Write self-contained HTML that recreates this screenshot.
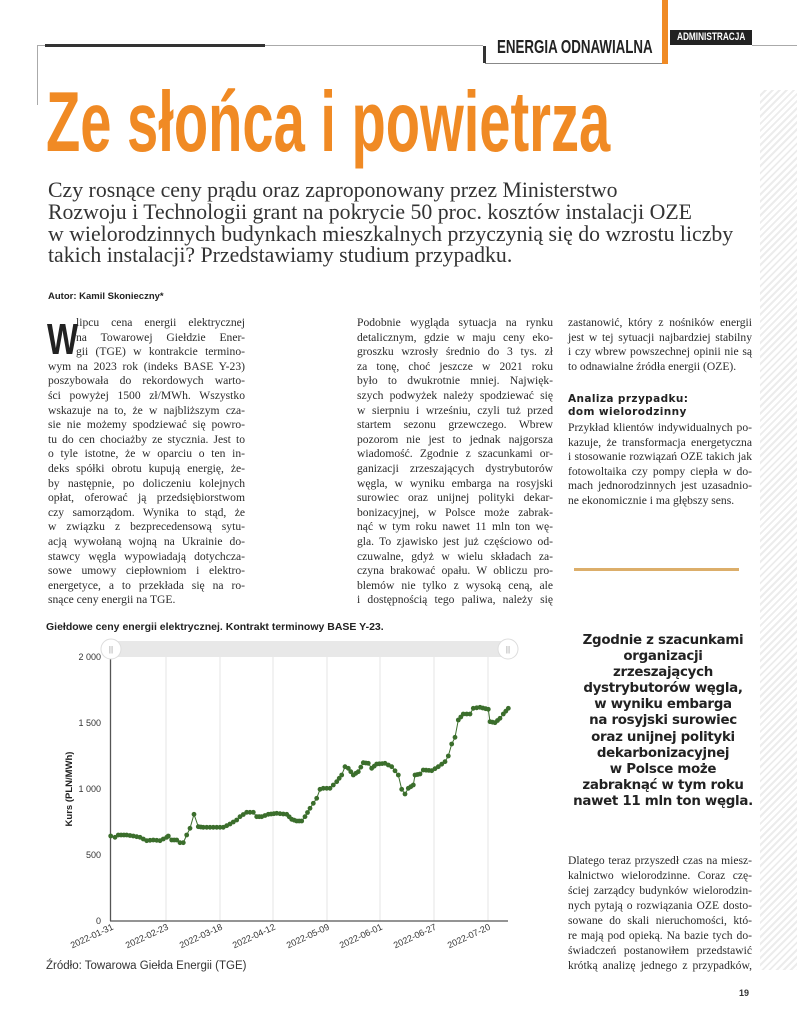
<!DOCTYPE html>
<html><head><meta charset="utf-8">
<style>
*{margin:0;padding:0}
body{width:797px;height:1024px;position:relative;background:#fff;overflow:hidden;font-family:"Liberation Serif",serif;color:#222}
.a{position:absolute}
.col{position:absolute;font-family:"Liberation Serif",serif;font-size:11.6px;line-height:14.6px;color:#2a2a2a}
.col div{white-space:nowrap;text-align:justify;text-align-last:justify}
.col div.l{text-align-last:left}
.sub{position:absolute;left:48px;top:180px;font-family:"Liberation Serif",serif;font-size:21.8px;line-height:21.8px;color:#333;white-space:nowrap}
.pq{position:absolute;left:568px;top:633px;width:190px;text-align:center;font-family:"DejaVu Sans","Liberation Sans",sans-serif;font-weight:bold;font-size:13.4px;line-height:16.1px;color:#222;letter-spacing:-0.3px}
.stripe{position:absolute;left:760px;top:90px;width:37px;height:880px;background:repeating-linear-gradient(135deg,#fff 0 3px,#ececec 3px 5px)}
</style></head><body>
<div class="stripe"></div>
<div class="a" style="left:37px;top:45px;width:446px;height:1px;background:#aaa"></div>
<div class="a" style="left:37px;top:45px;width:1px;height:60px;background:#aaa"></div>
<div class="a" style="left:45px;top:44px;width:220px;height:3px;background:#333"></div>
<div class="a" style="left:483px;top:46px;width:3px;height:17px;background:#333"></div>
<div class="a" style="left:485px;top:63px;width:180px;height:1px;background:#888"></div>
<div class="a" style="left:497px;top:37px;font-family:'Liberation Sans',sans-serif;font-weight:bold;font-size:18px;color:#222;transform:scaleX(0.74);transform-origin:left;white-space:nowrap">ENERGIA ODNAWIALNA</div>
<div class="a" style="left:662px;top:0;width:6px;height:64px;background:#f08a24"></div>
<div class="a" style="left:670px;top:30px;width:82px;height:15px;background:#222"></div>
<div class="a" style="left:677px;top:31px;font-family:'Liberation Sans',sans-serif;font-weight:bold;font-size:11px;color:#fff;transform:scaleX(0.75);transform-origin:left;white-space:nowrap">ADMINISTRACJA</div>
<div class="a" style="left:752px;top:45px;width:45px;height:1px;background:#aaa"></div>
<div class="a" style="left:46px;top:80px;font-family:'Liberation Sans',sans-serif;font-weight:bold;font-size:85px;line-height:85px;color:#f08a24;white-space:nowrap;transform:scaleX(0.66);transform-origin:left">Ze słońca i powietrza</div>
<div class="sub">Czy rosnące ceny prądu oraz zaproponowany przez Ministerstwo<br>Rozwoju i Technologii grant na pokrycie 50 proc. kosztów instalacji OZE<br>w wielorodzinnych budynkach mieszkalnych przyczynią się do wzrostu liczby<br>takich instalacji? Przedstawiamy studium przypadku.</div>
<div class="a" style="left:48px;top:291px;font-family:'Liberation Sans',sans-serif;font-weight:bold;font-size:9.5px;color:#222">Autor: Kamil Skonieczny*</div>
<div class="a" style="left:47px;top:318px;font-family:'Liberation Sans',sans-serif;font-weight:bold;font-size:44px;line-height:44px;color:#222;transform:scaleX(0.75);transform-origin:left">W</div>
<div class="col" style="left:48px;top:316px;width:197px">
<div style="margin-left:28px">lipcu cena energii elektrycznej</div>
<div style="margin-left:28px">na Towarowej Giełdzie Ener-</div>
<div style="margin-left:28px">gii (TGE) w kontrakcie termino-</div>
<div>wym na 2023 rok (indeks BASE Y-23)</div>
<div>poszybowała do rekordowych warto-</div>
<div>ści powyżej 1500 zł/MWh. Wszystko</div>
<div>wskazuje na to, że w najbliższym cza-</div>
<div>sie nie możemy spodziewać się powro-</div>
<div>tu do cen chociażby ze stycznia. Jest to</div>
<div>o tyle istotne, że w oparciu o ten in-</div>
<div>deks spółki obrotu kupują energię, że-</div>
<div>by następnie, po doliczeniu kolejnych</div>
<div>opłat, oferować ją przedsiębiorstwom</div>
<div>czy samorządom. Wynika to stąd, że</div>
<div>w związku z bezprecedensową sytu-</div>
<div>acją wywołaną wojną na Ukrainie do-</div>
<div>stawcy węgla wypowiadają dotychcza-</div>
<div>sowe umowy ciepłowniom i elektro-</div>
<div>energetyce, a to przekłada się na ro-</div>
<div class="l">snące ceny energii na TGE.</div>
</div>
<div class="col" style="left:357px;top:316px;width:196px">
<div>Podobnie wygląda sytuacja na rynku</div>
<div>detalicznym, gdzie w maju ceny eko-</div>
<div>groszku wzrosły średnio do 3 tys. zł</div>
<div>za tonę, choć jeszcze w 2021 roku</div>
<div>było to dwukrotnie mniej. Najwięk-</div>
<div>szych podwyżek należy spodziewać się</div>
<div>w sierpniu i wrześniu, czyli tuż przed</div>
<div>startem sezonu grzewczego. Wbrew</div>
<div>pozorom nie jest to jednak najgorsza</div>
<div>wiadomość. Zgodnie z szacunkami or-</div>
<div>ganizacji zrzeszających dystrybutorów</div>
<div>węgla, w wyniku embarga na rosyjski</div>
<div>surowiec oraz unijnej polityki dekar-</div>
<div>bonizacyjnej, w Polsce może zabrak-</div>
<div>nąć w tym roku nawet 11 mln ton wę-</div>
<div>gla. To zjawisko jest już częściowo od-</div>
<div>czuwalne, gdyż w wielu składach za-</div>
<div>czyna brakować opału. W obliczu pro-</div>
<div>blemów nie tylko z wysoką ceną, ale</div>
<div>i dostępnością tego paliwa, należy się</div>
</div>
<div class="col" style="left:568px;top:316px;width:184px">
<div>zastanowić, który z nośników energii</div>
<div>jest w tej sytuacji najbardziej stabilny</div>
<div>i czy wbrew powszechnej opinii nie są</div>
<div class="l">to odnawialne źródła energii (OZE).</div>
</div>
<div class="a" style="left:568px;top:393px;font-family:'DejaVu Sans',sans-serif;font-weight:bold;font-size:10.5px;line-height:13px;color:#222;letter-spacing:0.4px">Analiza przypadku:<br>dom wielorodzinny</div>
<div class="col" style="left:568px;top:421px;width:184px">
<div>Przykład klientów indywidualnych po-</div>
<div>kazuje, że transformacja energetyczna</div>
<div>i stosowanie rozwiązań OZE takich jak</div>
<div>fotowoltaika czy pompy ciepła w do-</div>
<div>mach jednorodzinnych jest uzasadnio-</div>
<div class="l">ne ekonomicznie i ma głębszy sens.</div>
</div>
<div class="a" style="left:574px;top:568px;width:165px;height:3px;background:#dcae6a"></div>
<div class="pq">Zgodnie z szacunkami<br>organizacji<br>zrzeszających<br>dystrybutorów węgla,<br>w wyniku embarga<br>na rosyjski surowiec<br>oraz unijnej polityki<br>dekarbonizacyjnej<br>w Polsce może<br>zabraknąć w tym roku<br>nawet 11 mln ton węgla.</div>
<div class="col" style="left:568px;top:853px;width:184px;line-height:15px">
<div>Dlatego teraz przyszedł czas na miesz-</div>
<div>kalnictwo wielorodzinne. Coraz czę-</div>
<div>ściej zarządcy budynków wielorodzin-</div>
<div>nych pytają o rozwiązania OZE dosto-</div>
<div>sowane do skali nieruchomości, któ-</div>
<div>re mają pod opieką. Na bazie tych do-</div>
<div>świadczeń postanowiłem przedstawić</div>
<div>krótką analizę jednego z przypadków,</div>
</div>
<div class="a" style="left:739px;top:988px;font-family:'Liberation Sans',sans-serif;font-weight:bold;font-size:9px;color:#333">19</div>
<div class="a" style="left:46px;top:621px;font-family:'Liberation Sans',sans-serif;font-weight:bold;font-size:10.5px;color:#222;white-space:nowrap">Giełdowe ceny energii elektrycznej. Kontrakt terminowy BASE Y-23.</div>
<div class="a" style="left:46px;top:960px;font-family:'Liberation Sans',sans-serif;font-size:11.5px;color:#333;white-space:nowrap">Źródło: Towarowa Giełda Energii (TGE)</div>
<svg class="a" style="left:0;top:0" width="797" height="1024" id="ch">
<rect x="111" y="641" width="397" height="16" fill="#e8e8e8"/>
<g stroke="#e6e6e6" stroke-width="1">
<line x1="166" y1="657" x2="166" y2="921"/><line x1="220" y1="657" x2="220" y2="921"/><line x1="273" y1="657" x2="273" y2="921"/><line x1="327" y1="657" x2="327" y2="921"/><line x1="380" y1="657" x2="380" y2="921"/><line x1="434" y1="657" x2="434" y2="921"/><line x1="488" y1="657" x2="488" y2="921"/>
</g>
<line x1="110.5" y1="657" x2="110.5" y2="921" stroke="#555" stroke-width="1.3"/>
<line x1="110" y1="921" x2="508" y2="921" stroke="#555" stroke-width="1.3"/>
<circle cx="111" cy="649" r="10" fill="#fff" stroke="#ddd"/><text x="111" y="652" font-size="8" fill="#999" text-anchor="middle" font-family="Liberation Sans">||</text>
<circle cx="508" cy="649" r="10" fill="#fff" stroke="#ddd"/><text x="508" y="652" font-size="8" fill="#999" text-anchor="middle" font-family="Liberation Sans">||</text>
<g font-family="Liberation Sans" font-size="9" fill="#333" text-anchor="end">
<text x="101" y="660">2 000</text><text x="101" y="726">1 500</text><text x="101" y="792">1 000</text><text x="101" y="858">500</text><text x="101" y="924">0</text>
</g>
<text transform="translate(72,789) rotate(-90)" font-family="Liberation Sans" font-weight="bold" font-size="9.5" fill="#222" text-anchor="middle">Kurs (PLN/MWh)</text>
<g font-family="Liberation Sans" font-size="9" fill="#333" text-anchor="end">
<text transform="translate(114,929) rotate(-25)">2022-01-31</text>
<text transform="translate(169,929) rotate(-25)">2022-02-23</text>
<text transform="translate(223,929) rotate(-25)">2022-03-18</text>
<text transform="translate(276,929) rotate(-25)">2022-04-12</text>
<text transform="translate(330,929) rotate(-25)">2022-05-09</text>
<text transform="translate(383,929) rotate(-25)">2022-06-01</text>
<text transform="translate(437,929) rotate(-25)">2022-06-27</text>
<text transform="translate(491,929) rotate(-25)">2022-07-20</text>
</g>
<g id="series"></g>
</svg>
<script>
var p=[[212,648],[225,652],[235,645],[260,645],[280,648],[300,652],[320,662],[340,660],[360,662],[380,652],[385,648],[395,660],[410,660],[420,668],[430,668],[440,645],[450,625],[462,583],[475,620],[490,622],[520,622],[550,622],[570,612],[590,600],[600,590],[620,577],[640,577],[650,590],[665,590],[685,583],[710,580],[740,583],[755,598],[770,603],[785,603],[795,590],[810,565],[830,535],[840,508],[850,505],[870,505],[890,485],[905,465],[915,440],[925,445],[940,465],[955,455],[970,428],[985,430],[995,445],[1010,432],[1035,430],[1055,440],[1075,465],[1085,508],[1095,522],[1105,505],[1120,495],[1125,465],[1140,462],[1150,450],[1175,452],[1195,440],[1215,425],[1225,408],[1235,372],[1245,352],[1255,300],[1270,282],[1290,282],[1300,265],[1320,262],[1345,268],[1350,305],[1365,308],[1380,295],[1390,282],[1405,265]];
var q=p.map(function(a){return [40+a[0]/3,620+a[1]/3]});
var s='<polyline fill="none" stroke="#3b6e2c" stroke-width="1" points="'+q.map(function(a){return a[0].toFixed(1)+','+a[1].toFixed(1)}).join(' ')+'"/>';
for(var i=0;i<q.length-1;i++){var a=q[i],b=q[i+1];var n=Math.max(1,Math.round((b[0]-a[0])/3.2));for(var k=0;k<n;k++){var t=k/n;s+='<circle cx="'+(a[0]+(b[0]-a[0])*t).toFixed(1)+'" cy="'+(a[1]+(b[1]-a[1])*t).toFixed(1)+'" r="2.4" fill="#3b6e2c"/>';}}
s+='<circle cx="'+q[q.length-1][0]+'" cy="'+q[q.length-1][1]+'" r="2.4" fill="#3b6e2c"/>';
document.getElementById('series').innerHTML=s;
</script>
</body></html>
